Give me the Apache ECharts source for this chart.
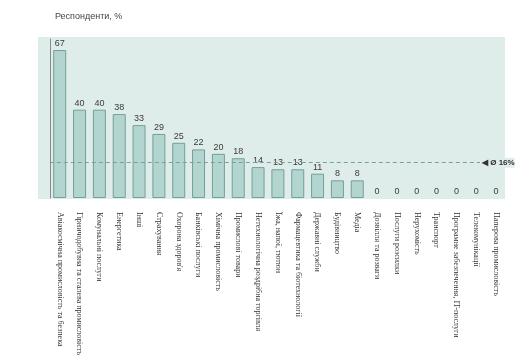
<!DOCTYPE html>
<html><head><meta charset="utf-8">
<script src="https://cdn.jsdelivr.net/npm/echarts@6/dist/echarts.min.js"></script>
<style>html,body{margin:0;padding:0;background:#fff}#c{width:532px;height:361px}</style>
</head><body><div id="c"></div>
<script>
const categories = [
  "Авіакосмічна промисловість та безпека",
  "Гірничодобувна та сталева промисловість",
  "Комунальні послуги",
  "Енергетика",
  "Інші",
  "Страхування",
  "Охорона здоров'я",
  "Банківські послуги",
  "Хімічна промисловість",
  "Промислові товари",
  "Нетехнологічна роздрібна торгівля",
  "Їжа, напої, тютюн",
  "Фармацевтика та біотехнології",
  "Державні служби",
  "Будівництво",
  "Медіа",
  "Дозвілля та розваги",
  "Послуги розсилки",
  "Нерухомість",
  "Транспорт",
  "Програмне забезпечення, IT-послуги",
  "Телекомунікації",
  "Паперова промисловість"
];
const values = [67, 40, 40, 38, 33, 29, 25, 22, 20, 18, 14, 13, 13, 11, 8, 8, 0, 0, 0, 0, 0, 0, 0];
const averageValue = 16;
const titleText = "Респонденти, %";

const barData = values.map(v => v === 0 ? {value: v, itemStyle: {borderWidth: 0}} : v);

const chart = echarts.init(document.getElementById('c'), null, {renderer: 'canvas'});
chart.setOption({
  animation: false,
  backgroundColor: '#ffffff',
  title: {
    text: titleText, left: 50, top: 7,
    textStyle: {fontSize: 9, fontWeight: 'normal', color: '#444', fontFamily: 'Liberation Sans'}
  },
  graphic: [{
    type: 'rect', z: -10, silent: true,
    shape: {x: 38, y: 37, width: 467, height: 162},
    style: {fill: '#deede9'}
  }],
  grid: {left: 49.8, right: 26, top: 39, bottom: 163},
  xAxis: {
    type: 'category', data: categories,
    axisLine: {show: false}, axisTick: {show: false},
    axisLabel: {
      rotate: -90, interval: 0, margin: 14, fontSize: 8,
      fontFamily: 'Liberation Serif', color: '#333'
    }
  },
  yAxis: {
    type: 'value', min: 0, max: 72,
    axisLine: {show: true, lineStyle: {color: '#8a8a8a', width: 1}},
    axisTick: {show: false}, axisLabel: {show: false}, splitLine: {show: false}
  },
  series: [{
    type: 'bar', data: barData, barWidth: 13,
    itemStyle: {color: '#b3d5cf', borderColor: '#739f99', borderWidth: 1},
    label: {
      show: true, position: 'top', distance: 2, fontSize: 9,
      fontFamily: 'Liberation Sans', color: '#3a3a3a'
    },
    markLine: {
      silent: true, symbol: 'none',
      lineStyle: {type: [4, 3], color: '#7f9e99', width: 1},
      data: [{yAxis: averageValue}],
      label: {
        position: 'end', distance: -26, fontSize: 8, fontWeight: 'bold',
        fontFamily: 'Liberation Sans', color: '#333',
        backgroundColor: '#deede9', padding: [1, 0, 1, 2],
        formatter: '◀ Ø ' + averageValue + '%'
      }
    }
  }]
});
</script></body></html>
